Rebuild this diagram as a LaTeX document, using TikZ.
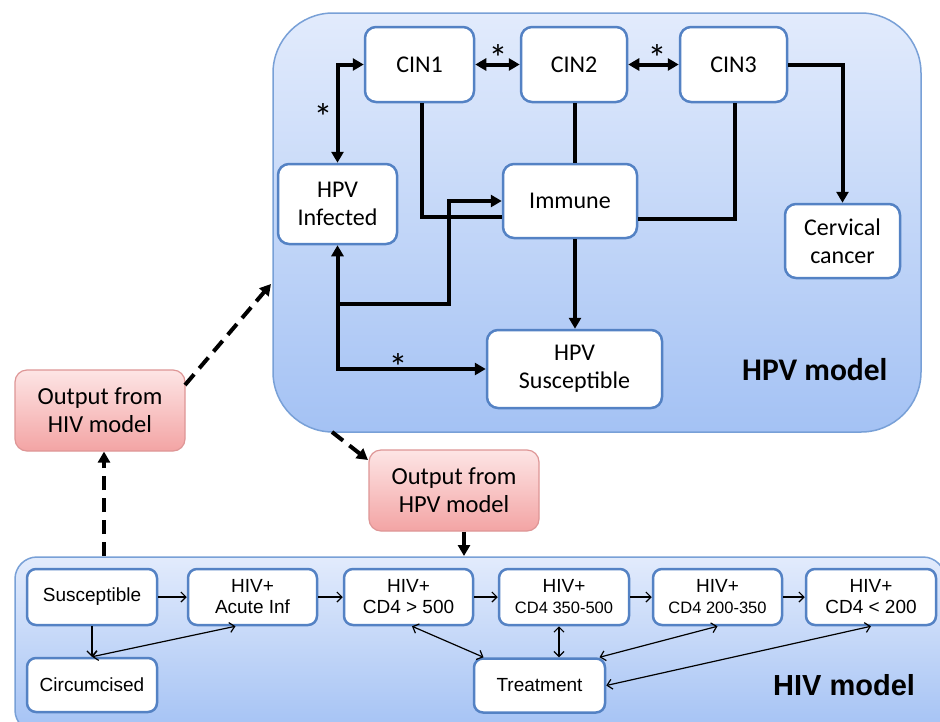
\documentclass[tikz,border=0pt]{standalone}
\usepackage{fontspec}
\setmainfont{Carlito}
\newfontfamily\arialf{Liberation Sans}
\usetikzlibrary{arrows.meta,calc}
\definecolor{nodeblue}{RGB}{84,130,196}
\definecolor{contborder}{RGB}{120,160,215}
\definecolor{conttop}{RGB}{226,235,252}
\definecolor{contbot}{RGB}{164,194,244}
\definecolor{pinktop}{RGB}{253,229,229}
\definecolor{pinkbot}{RGB}{243,164,164}
\definecolor{pinkborder}{RGB}{222,150,150}
\tikzset{
  hpvnode/.style={draw=nodeblue, line width=2.5pt, fill=white, rounded corners=11pt,
    align=center, inner sep=0pt, font=\fontsize{24}{28}\selectfont},
  hivnode/.style={draw=nodeblue, line width=2.5pt, fill=white, rounded corners=9pt,
    align=center, inner sep=0pt, minimum height=56pt, minimum width=129pt,
    font=\arialf\fontsize{19}{21}\selectfont},
  outnode/.style={draw=pinkborder, line width=1.2pt, top color=pinktop, bottom color=pinkbot,
    rounded corners=12pt, align=center, inner sep=0pt, minimum width=170pt, minimum height=81pt,
    font=\fontsize{24.5}{28}\selectfont},
  container/.style={draw=contborder, line width=1.5pt, top color=conttop, bottom color=contbot},
  hpvarr/.style={line width=4pt, -{Triangle[length=11pt,width=12pt]}},
  hpvdbl/.style={line width=4pt, {Triangle[length=11pt,width=12pt]}-{Triangle[length=11pt,width=12pt]}},
  hpvline/.style={line width=4pt},
  star/.style={font=\fontsize{38}{40}\selectfont, inner sep=0pt},
  hivarr/.style={line width=1.2pt, -{Straight Barb[length=5pt,width=10pt]}},
  hivdbl/.style={line width=1.2pt, {Straight Barb[length=5pt,width=10pt]}-{Straight Barb[length=5pt,width=10pt]}},
  dasharr/.style={line width=4pt, dash pattern=on 14pt off 8pt, -{Triangle[length=11pt,width=12pt]}},
  modellabel/.style={font=\bfseries\fontsize{31.5}{36}\selectfont, inner sep=0pt}
}
\begin{document}
\begin{tikzpicture}[x=1pt,y=-1pt]
\useasboundingbox (0,0) rectangle (940,721);
\fill[white] (0,0) rectangle (940,721);

% containers
\node[container, rounded corners=60pt, minimum width=648pt, minimum height=419pt] (hpv) at (597,222.5) {};
\node[container, rounded corners=22pt, minimum width=930pt, minimum height=175pt] (hiv) at (480,644.5) {};

% HPV nodes
\node[hpvnode, minimum width=109pt, minimum height=75pt] (cin1) at (419.5,64.5) {CIN1};
\node[hpvnode, minimum width=106pt, minimum height=75pt] (cin2) at (574,64.5) {CIN2};
\node[hpvnode, minimum width=107pt, minimum height=75pt] (cin3) at (733.5,64.5) {CIN3};
\node[hpvnode, minimum width=119pt, minimum height=80pt] (inf) at (337.5,204) {HPV\\Infected};
\node[hpvnode, minimum width=134pt, minimum height=74pt] (imm) at (570,201) {Immune};
\node[hpvnode, minimum width=115pt, minimum height=74pt] (cerv) at (842.5,241) {Cervical\\cancer};
\node[hpvnode, minimum width=175pt, minimum height=78pt] (susc) at (574.5,369) {HPV\\Susceptible};
\node[modellabel, anchor=west] (hpvlabel) at (742,370) {HPV model};

% HPV connectors
\draw[hpvdbl] (inf.north) |- (cin1.west);
\draw[hpvdbl] (cin1.east) -- (cin2.west);
\draw[hpvdbl] (cin2.east) -- (cin3.west);
\draw[hpvarr] (cin3.east) -| (cerv.north);
\draw[hpvline] ([xshift=2pt]cin1.south) |- ([yshift=-16pt]imm.west);
\draw[hpvline] ([xshift=1pt]cin2.south) -- ([xshift=1pt]cin2.south |- imm.north);
\draw[hpvline] ([xshift=1.5pt]cin3.south) |- ([yshift=-18pt]imm.east);
\draw[hpvarr] ([xshift=5pt]imm.south) -- ([xshift=5pt]imm.south |- susc.north);
\draw[hpvdbl] (inf.south) |- (susc.west);
\coordinate (br) at (337.5,304);
\draw[hpvarr] (br) -| ([xshift=-53pt]imm.west) -- (imm.west);

\node[star] (s1) at (323,117) {*};
\node[star] (s2) at (498,58) {*};
\node[star] (s3) at (657,58) {*};
\node[star] (s4) at (398,367) {*};

% output nodes
\node[outnode] (outhiv) at (100,410.5) {Output from\\HIV model};
\node[outnode] (outhpv) at (454,490.5) {Output from\\HPV model};

% HIV nodes
\node[hivnode, minimum width=130pt] (hsus) at (92,597) {Susceptible};
\node[hivnode] (acute) at (252.5,597) {HIV+\\Acute Inf};
\node[hivnode] (cda) at (408.5,597) {HIV+\\CD4 {\textgreater} 500};
\node[hivnode, minimum width=130pt] (cdb) at (564,597) {HIV+\\{\fontsize{16.5}{21}\selectfont CD4 350-500}};
\node[hivnode] (cdc) at (717.5,597) {HIV+\\{\fontsize{16.5}{21}\selectfont CD4 200-350}};
\node[hivnode, minimum width=130pt] (cdd) at (871,597) {HIV+\\CD4 {\textless} 200};
\node[hivnode, minimum width=130pt, minimum height=54pt] (circ) at (92,685) {Circumcised};
\node[hivnode, minimum width=131pt, minimum height=54pt] (treat) at (539.5,685.5) {Treatment};
\node[font=\arialf\bfseries\fontsize{29}{34}\selectfont, inner sep=0pt, anchor=west] (hivlabel) at (773,685) {HIV model};

% HIV connectors
\draw[hivarr] (hsus.east) -- (acute.west);
\draw[hivarr] (acute.east) -- (cda.west);
\draw[hivarr] (cda.east) -- (cdb.west);
\draw[hivarr] (cdb.east) -- (cdc.west);
\draw[hivarr] (cdc.east) -- (cdd.west);
\draw[hivarr] (hsus.south) -- (circ.north);
\draw[hivdbl] (circ.north) -- ([xshift=-17pt]acute.south);
\draw[hivdbl] ([xshift=3.5pt]cda.south) -- ([xshift=-56pt]treat.north);
\draw[hivdbl] ([xshift=-5pt]cdb.south) -- ([xshift=-5pt]cdb.south |- treat.north);
\draw[hivdbl] (cdc.south) -- ([xshift=60pt]treat.north);
\draw[hivdbl] (cdd.south) -- (treat.east);

% links between models
\coordinate (hivtop) at (104,556);
\draw[dasharr] (hivtop) -- (hivtop |- outhiv.south);
\coordinate (outhivne) at (185,385);
\coordinate (hpvleft) at (271,284);
\draw[dasharr] (outhivne) -- (hpvleft);
\coordinate (hpvbot) at (332,432);
\coordinate (outhpvnw) at (368,460);
\draw[dasharr] (hpvbot) -- (outhpvnw);
\coordinate (hivtop2) at (464,556);
\draw[hpvarr] (hivtop2 |- outhpv.south) -- (hivtop2);
\end{tikzpicture}
\end{document}
